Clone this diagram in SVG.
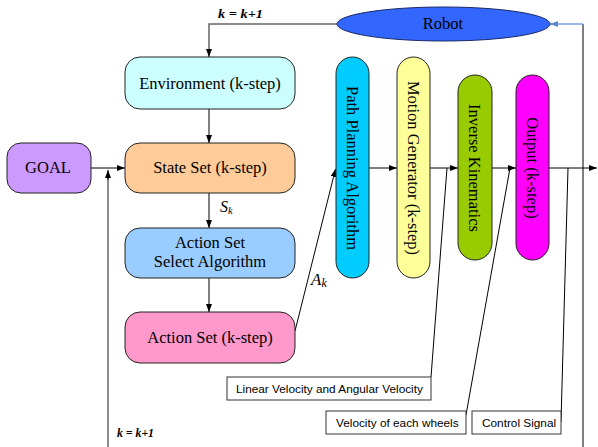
<svg xmlns="http://www.w3.org/2000/svg" width="598" height="447" viewBox="0 0 598 447">
  <defs>
    <marker id="arrow" viewBox="0 0 8 6" refX="8" refY="3" markerWidth="8" markerHeight="6" markerUnits="userSpaceOnUse" orient="auto">
      <path d="M0,0 L8,3 L0,6 Z" fill="#000"/>
    </marker>
    <marker id="arrowBlue" viewBox="0 0 8 6" refX="8" refY="3" markerWidth="8" markerHeight="6" markerUnits="userSpaceOnUse" orient="auto">
      <path d="M0,0 L8,3 L0,6 Z" fill="#5b86d0"/>
    </marker>
  </defs>
  <style>
    .box { stroke: #222; stroke-width: 1; }
    .lbl { font-family: "Liberation Serif", "Times New Roman", serif; font-size: 16.5px; fill: #000; text-anchor: middle; }
    .vlbl { font-family: "Liberation Serif", "Times New Roman", serif; font-size: 16.5px; fill: #000; text-anchor: middle; }
    .note { fill: #fff; stroke: #333; stroke-width: 1; }
    .notetxt { font-family: "Liberation Sans", Arial, sans-serif; font-size: 11.8px; fill: #000; }
    .eq { font-family: "Liberation Serif", "Times New Roman", serif; font-weight: bold; font-style: italic; fill: #000; }
    .sym { font-family: "Liberation Serif", "Times New Roman", serif; font-style: italic; fill: #000; }
    .line { fill: none; stroke: #000; stroke-width: 1; }
    .gray { fill: none; stroke: #666; stroke-width: 1.5; }
  </style>

  <rect width="598" height="447" fill="#fff"/>

  <!-- connectors -->
  <g id="connectors">
    <!-- feedback from robot to environment -->
    <polyline class="gray" points="337,24 209,24 209,57" marker-end="url(#arrow)"/>
    <!-- left column flow -->
    <line class="line" x1="209" y1="109" x2="209" y2="143" marker-end="url(#arrow)"/>
    <line class="line" x1="91" y1="168" x2="125" y2="168" marker-end="url(#arrow)"/>
    <line class="line" x1="209" y1="193" x2="209" y2="228" marker-end="url(#arrow)"/>
    <line class="line" x1="209" y1="278" x2="209" y2="312" marker-end="url(#arrow)"/>
    <!-- lower feedback into state set -->
    <line class="gray" x1="108" y1="447" x2="108" y2="172" stroke-width="2"/>
    <line class="line" x1="108" y1="180" x2="108" y2="170" marker-end="url(#arrow)"/>
    <!-- A_k to path planning -->
    <line class="line" x1="295" y1="331" x2="335.5" y2="169" marker-end="url(#arrow)"/>
    <!-- pipeline -->
    <line class="line" x1="369" y1="168" x2="397" y2="168" marker-end="url(#arrow)"/>
    <line class="line" x1="430" y1="168" x2="458" y2="168" marker-end="url(#arrow)"/>
    <line class="line" x1="492" y1="168" x2="516" y2="168" marker-end="url(#arrow)"/>
    <line class="line" x1="549" y1="168" x2="597" y2="168" marker-end="url(#arrow)"/>
    <!-- output to robot -->
    <line class="line" x1="583" y1="24" x2="583" y2="447" stroke="#222"/>
    <line x1="583" y1="24" x2="550" y2="24" stroke="#7aa0dc" stroke-width="1.5" marker-end="url(#arrowBlue)"/>
    <!-- callout leaders -->
    <line class="line" x1="431" y1="377" x2="447" y2="168"/>
    <line class="line" x1="466" y1="415" x2="510" y2="168"/>
    <line class="line" x1="561" y1="422" x2="568" y2="168"/>
  </g>

  <g id="robot">
    <ellipse cx="443.5" cy="24" rx="106.5" ry="17" fill="#3366ff" stroke="#1a2a66" stroke-width="1"/>
    <text class="lbl" x="443" y="29">Robot</text>
  </g>

  <g id="environment">
    <rect class="box" x="125" y="57" width="170" height="52" rx="15" fill="#ccffff"/>
    <text class="lbl" x="210" y="89">Environment (k-step)</text>
  </g>

  <g id="goal">
    <rect class="box" x="7" y="143" width="84" height="50" rx="14" fill="#cc99ff"/>
    <text class="lbl" x="48" y="173">GOAL</text>
  </g>

  <g id="state-set">
    <rect class="box" x="125" y="143" width="170" height="50" rx="15" fill="#ffcc99"/>
    <text class="lbl" x="210" y="173">State Set (k-step)</text>
  </g>

  <g id="action-select">
    <rect class="box" x="125" y="228" width="170" height="50" rx="15" fill="#99ccff"/>
    <text class="lbl" x="210" y="248">Action Set</text>
    <text class="lbl" x="210" y="267">Select Algorithm</text>
  </g>

  <g id="action-set">
    <rect class="box" x="125" y="312" width="170" height="51" rx="15" fill="#ff99cc"/>
    <text class="lbl" x="210" y="343">Action Set (k-step)</text>
  </g>

  <g id="path-planning">
    <rect class="box" x="336" y="57" width="33" height="221" rx="16.5" fill="#00ccff"/>
    <text class="vlbl" transform="translate(352.5,168) rotate(90)" dy="0.35em">Path Planning Algorithm</text>
  </g>

  <g id="motion-generator">
    <rect class="box" x="397" y="57" width="33" height="221" rx="16.5" fill="#ffff99"/>
    <text class="vlbl" transform="translate(413.5,168) rotate(90)" dy="0.35em">Motion Generator (k-step)</text>
  </g>

  <g id="inverse-kinematics">
    <rect class="box" x="458" y="75" width="34" height="185" rx="17" fill="#99cc00"/>
    <text class="vlbl" transform="translate(475,168) rotate(90)" dy="0.35em">Inverse Kinematics</text>
  </g>

  <g id="output">
    <rect class="box" x="516" y="75" width="33" height="185" rx="16.5" fill="#ff00ff"/>
    <text class="vlbl" transform="translate(532.5,168) rotate(90)" dy="0.35em">Output (k-step)</text>
  </g>

  <!-- symbols on connectors -->
  <g id="symbols">
    <text class="sym" x="220" y="212" font-size="16">S<tspan font-size="10.5" dy="2">k</tspan></text>
    <text class="sym" x="311" y="285" font-size="17">A<tspan font-size="12" dy="2">k</tspan></text>
    <text class="eq" x="218" y="18" font-size="13" textLength="45" lengthAdjust="spacingAndGlyphs">k = k+1</text>
    <text class="eq" x="117" y="437" font-size="12.5" textLength="37" lengthAdjust="spacingAndGlyphs">k = k+1</text>
  </g>

  <g id="callout-linear">
    <rect class="note" x="227" y="377" width="204" height="23"/>
    <text class="notetxt" x="236" y="393">Linear Velocity and Angular Velocity</text>
  </g>

  <g id="callout-wheels">
    <rect class="note" x="326" y="411" width="140" height="23"/>
    <text class="notetxt" x="336" y="427">Velocity of each wheels</text>
  </g>

  <g id="callout-control">
    <rect class="note" x="472" y="411" width="89" height="23"/>
    <text class="notetxt" x="482" y="427">Control Signal</text>
  </g>
</svg>
